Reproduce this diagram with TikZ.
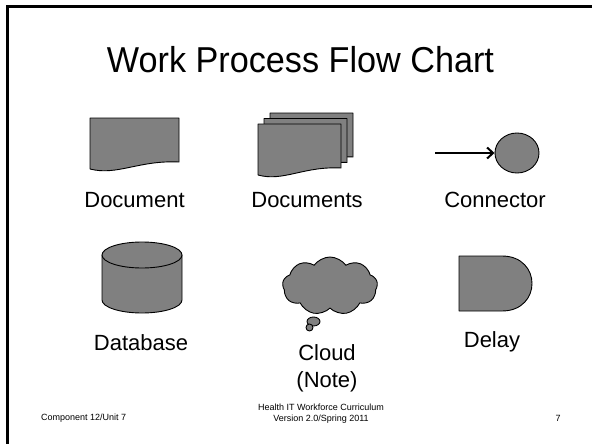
\documentclass[tikz,border=0pt]{standalone}
\usepackage{fontspec}
\setmainfont{Liberation Sans}
\newfontfamily\titlefont[FakeStretch=0.95]{Liberation Sans}
\usetikzlibrary{
    arrows.meta,
    positioning,
    shapes.geometric,
    shapes.symbols
}
\definecolor{symgray}{RGB}{128,128,128}
\tikzset{
    % --- Flowchart symbol (grey body, thin black outline) ---
    symbol/.style = {
        draw=black, fill=symgray, line width=0.9pt, line join=round
    },
    % --- Symbol name under the symbol ---
    sym label/.style = {
        font=\fontsize{22}{27}\selectfont,
        anchor=base, inner sep=0pt, align=center
    },
    % --- Slide title ---
    slide title/.style = {
        font=\titlefont\fontsize{36}{42}\selectfont,
        anchor=base, inner sep=0pt
    },
    % --- Footer text ---
    footer/.style = {
        font=\fontsize{9}{11}\selectfont,
        inner sep=0pt, align=center
    },
    % --- Slide frame edge ---
    frame edge/.style = {
        line width=2.5pt
    },
    % --- Arrow into the connector ---
    conn arrow/.style = {
        -{Straight Barb[length=6pt, width=11pt]}, line width=2pt
    },
    % --- One document sheet, origin at its top left corner ---
    docsheet/.pic = {
        \draw[symbol] (0,0) -- (89,0) -- (89,44)
            .. controls (49,42) and (27,58) .. (0,51) -- cycle;
    }
}

\begin{document}
\begin{tikzpicture}[x=1pt, y=-1pt]
\useasboundingbox (0,0) rectangle (592,444);

% ---------------------------------------------------------
% Slide frame and title
% ---------------------------------------------------------
\draw[frame edge] (7.5,444) -- (7.5,6.5) -- (592,6.5);
\node[slide title] (Title) at (300.5,73) {Work Process Flow Chart};

% ---------------------------------------------------------
% Document
% ---------------------------------------------------------
\pic at (90,118) {docsheet};
\node[sym label] (DocLbl) at (134.5,207) {Document};

% ---------------------------------------------------------
% Documents (three stacked sheets)
% ---------------------------------------------------------
\pic[xscale=0.933] at (270,113) {docsheet};
\pic[xscale=0.933] at (264,118.5) {docsheet};
\pic[xscale=0.933] at (258,124) {docsheet};
\node[sym label] (DocsLbl) at (307,207) {Documents};

% ---------------------------------------------------------
% Connector
% ---------------------------------------------------------
\node[symbol, ellipse, minimum width=44pt, minimum height=40pt,
    inner sep=0pt] (Conn) at (517,153) {};
\coordinate (ConnIn) at (435,153);
\draw[conn arrow] (ConnIn) -- (Conn);
\node[sym label] (ConnLbl) at (495,207) {Connector};

% ---------------------------------------------------------
% Database
% ---------------------------------------------------------
\draw[symbol] (102,255) -- (102,300)
    arc[start angle=180, end angle=360, x radius=40pt, y radius=13pt]
    -- (182,255) -- cycle;
\draw[symbol] (142,255) ellipse [x radius=40pt, y radius=13pt];
\node[sym label] (DbLbl) at (141,350) {Database};

% ---------------------------------------------------------
% Cloud (note)
% ---------------------------------------------------------
\node[symbol, cloud, cloud puffs=9, cloud puff arc=110, aspect=1.6,
    minimum width=95pt, minimum height=58pt] (Cloud) at (330,286) {};
\draw[symbol] (313.5,321.5) ellipse [x radius=6.5pt, y radius=4.5pt];
\draw[symbol] (309.5,327.5) circle [radius=3.5pt];
\node[sym label] (CloudLbl) at (327,387) {Cloud\\(Note)};

% ---------------------------------------------------------
% Delay
% ---------------------------------------------------------
\draw[symbol] (459,256) -- (502,256)
    .. controls (542,256) and (542,311) .. (502,311) -- (459,311) -- cycle;
\node[sym label] (DelayLbl) at (492,347) {Delay};

% ---------------------------------------------------------
% Footer
% ---------------------------------------------------------
\node[footer, anchor=west] (Unit) at (41,418) {Component 12/Unit 7};
\node[footer] (Curr) at (321,413.5) {Health IT Workforce Curriculum\\Version 2.0/Spring 2011};
\node[footer] (PageNo) at (558,418) {7};

\end{tikzpicture}
\end{document}
